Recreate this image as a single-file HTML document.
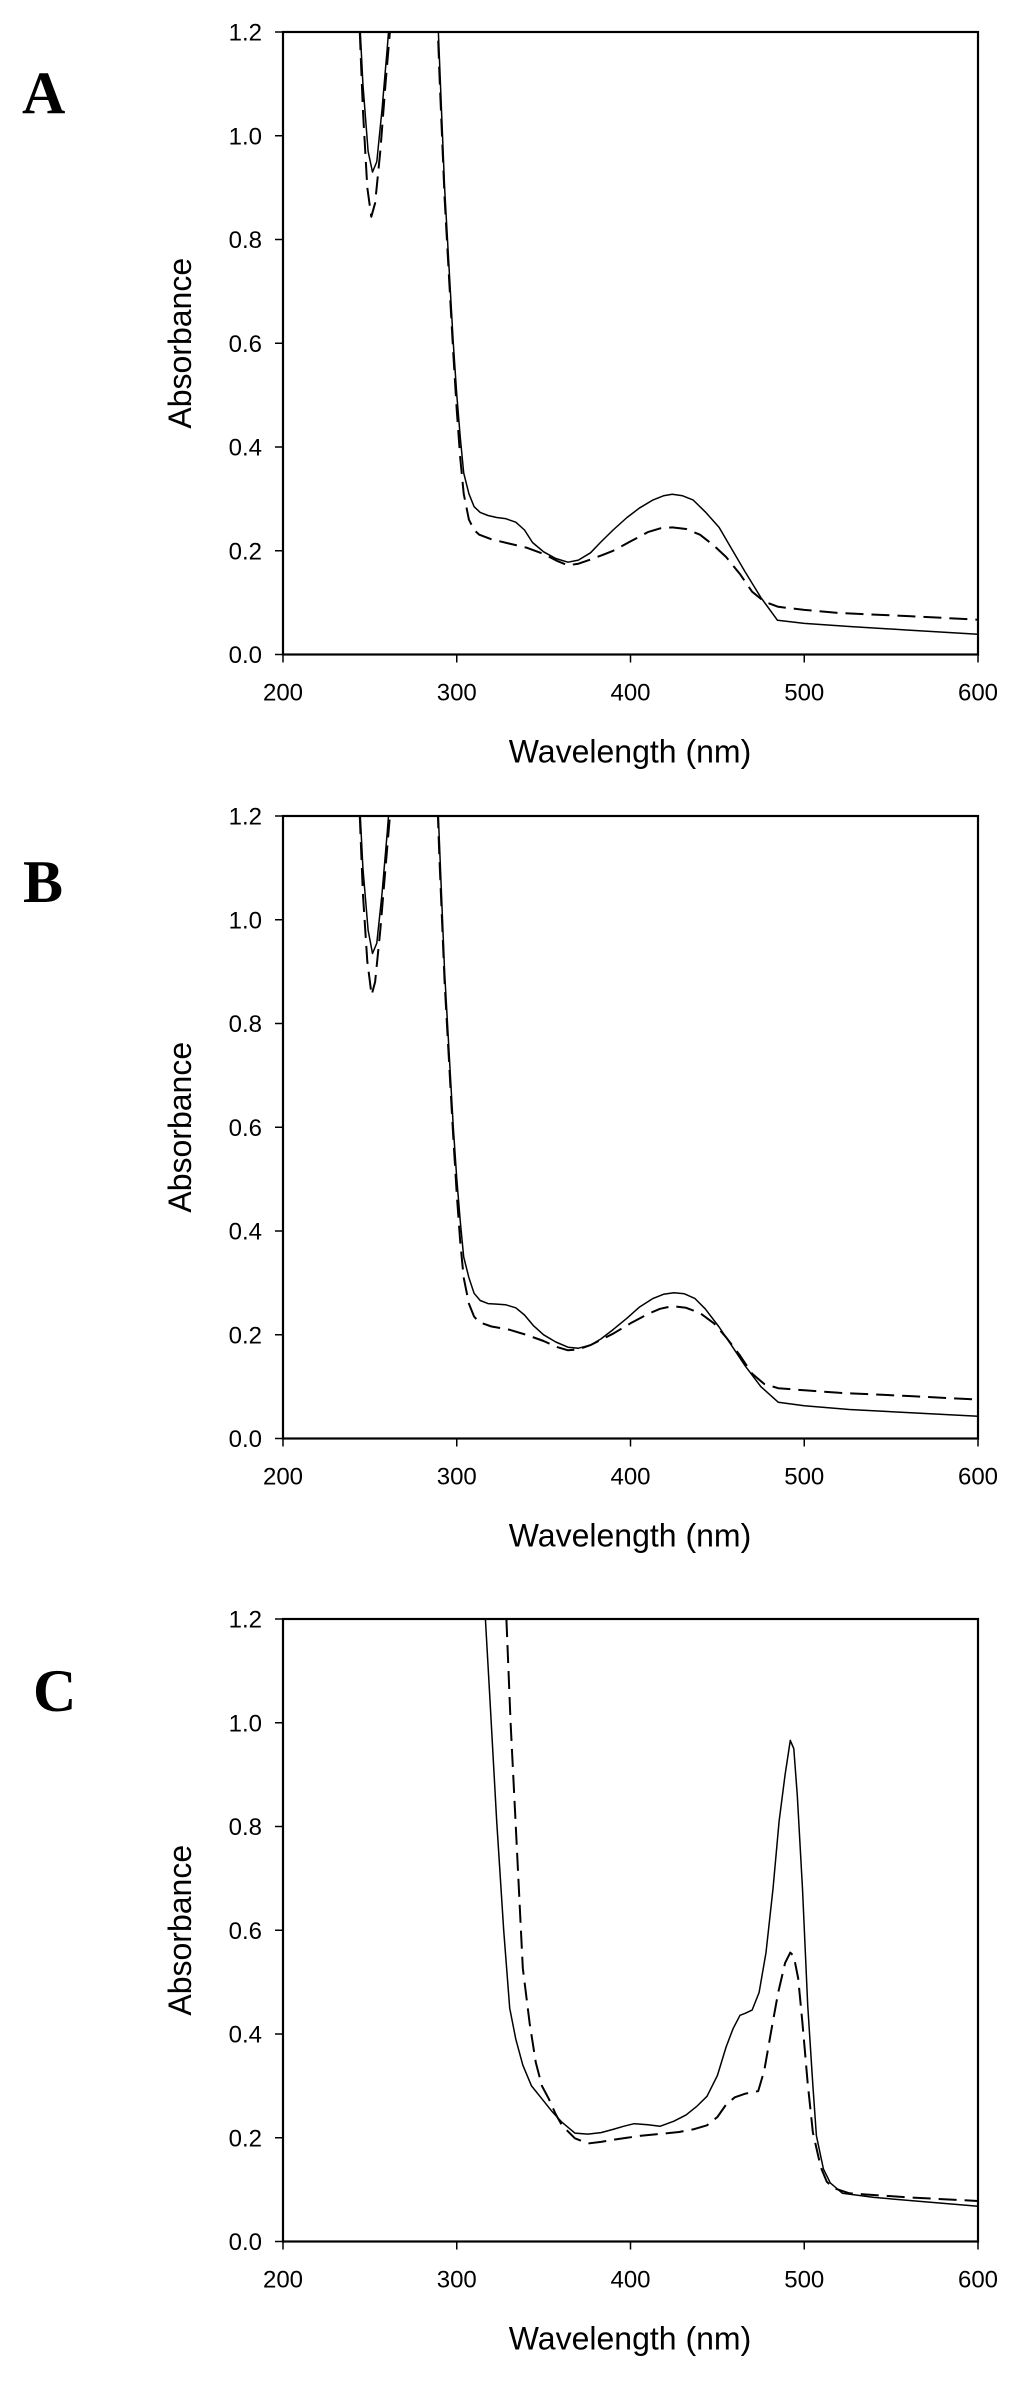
<!DOCTYPE html>
<html><head><meta charset="utf-8"><style>
html,body{margin:0;padding:0;background:#fff;}
svg{display:block;}
text{font-family:"Liberation Sans",Arial,sans-serif;fill:#000;}
.lbl{font-family:"Liberation Serif","Times New Roman",serif;font-weight:bold;}
</style></head><body>
<svg id="fig" width="1024" height="2381" viewBox="0 0 1024 2381" xmlns="http://www.w3.org/2000/svg"></svg>
<script>
// X/Y ticks
const xTicks = [200, 300, 400, 500, 600];
const yTicks = [0.0, 0.2, 0.4, 0.6, 0.8, 1.0, 1.2];
const panelLetters = ["A", "B", "C"];
// Panel A
const aSolidX = [243, 246, 249, 251.5, 254, 257, 260, 263, 287, 290, 293, 296, 298, 300, 302, 304, 307, 310, 313.5, 318, 323, 328, 334, 339, 343.6, 350, 357, 364, 370, 377, 383, 390, 398, 405, 413, 419, 424, 430, 436, 443, 451, 458, 466, 475, 484.6, 500, 526, 560, 600];
const aSolidY = [1.3, 1.1, 0.97, 0.93, 0.95, 1.05, 1.17, 1.3, 1.4, 1.15, 0.9, 0.72, 0.6, 0.5, 0.42, 0.35, 0.31, 0.285, 0.274, 0.268, 0.264, 0.262, 0.255, 0.24, 0.216, 0.198, 0.185, 0.178, 0.182, 0.196, 0.217, 0.24, 0.264, 0.282, 0.298, 0.306, 0.309, 0.306, 0.298, 0.275, 0.245, 0.205, 0.159, 0.11, 0.066, 0.06, 0.054, 0.047, 0.039];
const aDashX = [243, 246, 248.5, 250.8, 253, 256, 259, 262.8, 287, 290, 293, 296, 298, 300, 302, 304, 307, 310, 313, 320, 330, 340, 350, 358, 364, 370, 377, 384, 390, 400, 410, 417, 424, 432, 440, 448, 455, 463, 470, 477, 485, 500, 520, 560, 600];
const aDashY = [1.3, 1.05, 0.9, 0.844, 0.87, 0.97, 1.1, 1.25, 1.4, 1.12, 0.88, 0.7, 0.58, 0.47, 0.38, 0.31, 0.26, 0.24, 0.231, 0.222, 0.214, 0.206, 0.194, 0.18, 0.172, 0.175, 0.183, 0.192, 0.2, 0.218, 0.236, 0.243, 0.245, 0.242, 0.231, 0.21, 0.188, 0.155, 0.121, 0.102, 0.092, 0.086, 0.08, 0.074, 0.067];
// Panel B
const bSolidX = [243, 246, 249, 251.5, 254, 257, 260, 263, 287, 290, 293, 296, 298, 300, 302, 304, 307, 310, 313.5, 318, 323, 328, 334, 339, 344, 350, 357, 364, 370, 377, 383, 390, 398, 405, 413, 419, 425, 431, 437, 443, 451, 458, 466, 475, 485, 500, 526, 560, 600];
const bSolidY = [1.3, 1.1, 0.98, 0.935, 0.955, 1.05, 1.17, 1.3, 1.4, 1.15, 0.9, 0.72, 0.6, 0.5, 0.42, 0.35, 0.31, 0.28, 0.266, 0.26, 0.259, 0.258, 0.252, 0.238, 0.218, 0.2, 0.186, 0.176, 0.174, 0.18, 0.192, 0.21, 0.232, 0.253, 0.27, 0.278, 0.281, 0.279, 0.27, 0.25, 0.215, 0.18, 0.14, 0.1, 0.07, 0.063, 0.056, 0.05, 0.043];
const bDashX = [243, 246, 248.5, 251, 253, 256, 259, 262.8, 287, 290, 293, 296, 298, 300, 302, 304, 307, 310, 313, 320, 330, 340, 350, 358, 364, 370, 377, 384, 390, 400, 410, 417, 424, 432, 440, 448, 455, 463, 470, 477, 485, 500, 520, 560, 600];
const bDashY = [1.3, 1.05, 0.92, 0.855, 0.88, 0.98, 1.1, 1.25, 1.4, 1.12, 0.88, 0.7, 0.58, 0.47, 0.38, 0.31, 0.26, 0.235, 0.224, 0.216, 0.21, 0.2, 0.188, 0.176, 0.17, 0.172, 0.18, 0.192, 0.202, 0.222, 0.24, 0.25, 0.255, 0.252, 0.242, 0.222, 0.195, 0.16, 0.125, 0.105, 0.097, 0.093, 0.088, 0.082, 0.075];
// Panel C
const cSolidX = [314, 316.5, 319, 323, 327, 330.5, 334, 338, 343, 349, 355, 360.5, 368, 375.5, 383, 390, 396, 402, 410, 417, 425, 432, 438, 444, 450, 455, 459, 463, 466, 470, 474, 478, 482, 485.5, 489, 492, 494, 496, 499, 502, 505, 507, 511, 515, 522, 540, 564, 600];
const cSolidY = [1.35, 1.2, 1.05, 0.81, 0.6, 0.45, 0.39, 0.34, 0.3, 0.275, 0.25, 0.23, 0.209, 0.207, 0.21, 0.216, 0.222, 0.227, 0.225, 0.222, 0.232, 0.244, 0.26, 0.28, 0.32, 0.375, 0.41, 0.436, 0.44, 0.446, 0.48, 0.557, 0.68, 0.81, 0.9, 0.966, 0.95, 0.86, 0.68, 0.456, 0.3, 0.204, 0.14, 0.113, 0.093, 0.085, 0.078, 0.068];
const cDashX = [326, 328.6, 331, 334, 338, 342, 345.5, 349, 353, 357, 360.5, 368, 375.5, 383, 390, 398, 406, 416, 428, 436, 444, 450, 455, 460, 466, 473.5, 477, 481, 485, 489, 492, 494, 496.5, 499, 502, 505, 509.5, 513, 517, 526, 560, 600];
const cDashY = [1.35, 1.2, 1.0, 0.8, 0.527, 0.42, 0.345, 0.3, 0.275, 0.245, 0.224, 0.199, 0.189, 0.192, 0.196, 0.2, 0.204, 0.207, 0.211, 0.216, 0.224, 0.24, 0.264, 0.278, 0.285, 0.29, 0.33, 0.406, 0.48, 0.537, 0.557, 0.55, 0.507, 0.42, 0.305, 0.21, 0.143, 0.115, 0.103, 0.093, 0.085, 0.078];

const panels = [
  {top: 32, sx: aSolidX, sy: aSolidY, dx: aDashX, dy: aDashY, lx: 22, lb: 113},
  {top: 816, sx: bSolidX, sy: bSolidY, dx: bDashX, dy: bDashY, lx: 23, lb: 902},
  {top: 1619, sx: cSolidX, sy: cSolidY, dx: cDashX, dy: cDashY, lx: 33, lb: 1711}
];
const NS = "http://www.w3.org/2000/svg";
const svg = document.getElementById("fig");
const L = 283, R = 978, H = 622.5;
function mk(tag, attrs, parent) {
  const e = document.createElementNS(NS, tag);
  for (const k in attrs) e.setAttribute(k, attrs[k]);
  parent.appendChild(e);
  return e;
}
panels.forEach((p, i) => {
  const T = p.top, B = T + H;
  const xs = v => L + (v - 200) / 400 * (R - L);
  const ys = v => B - v / 1.2 * H;
  const g = mk("g", {}, svg);
  
  
  const clipId = "clip" + i;
  const cp = mk("clipPath", {id: clipId}, g);
  mk("rect", {x: L, y: T, width: R - L, height: H}, cp);
  const lt = mk("text", {x: p.lx, y: p.lb, "font-size": 60, class: "lbl"}, g);
  lt.textContent = panelLetters[i];
  
  
  function line(X, Y, dashed, name) {
    const d = X.map((x, k) => (k ? "L" : "M") + xs(x).toFixed(1) + "," + ys(Y[k]).toFixed(1)).join("");
    const a = {d: d, fill: "none", stroke: "#000", "stroke-width": dashed ? 2 : 1.5, "stroke-linejoin": "round", "clip-path": "url(#" + clipId + ")"};
    if (dashed) a["stroke-dasharray"] = "18,8";
    const el = mk("path", a, g);
    
    
  }
  line(p.sx, p.sy, false, 'solid-spectrum');
  line(p.dx, p.dy, true, 'dashed-spectrum');
  const fr = mk("rect", {x: L, y: T, width: R - L, height: H, fill: "none", stroke: "#000", "stroke-width": 2.2}, g);
  
  
  xTicks.forEach(v => {
    const t = mk("line", {x1: xs(v), x2: xs(v), y1: B, y2: B + 8, stroke: "#000", "stroke-width": 1.5}, g);
    
    
    const tx = mk("text", {x: xs(v), y: B + 46, "font-size": 24, "text-anchor": "middle"}, g);
    tx.textContent = String(v);
    
    
  });
  yTicks.forEach(v => {
    const t = mk("line", {x1: L - 8, x2: L, y1: ys(v), y2: ys(v), stroke: "#000", "stroke-width": 1.5}, g);
    
    
    const tx = mk("text", {x: 262, y: ys(v) + 8.5, "font-size": 24, "text-anchor": "end"}, g);
    tx.textContent = v.toFixed(1);
    
    
  });
  const xt = mk("text", {x: 630, y: B + 108, "font-size": 32, "text-anchor": "middle"}, g);
  xt.textContent = "Wavelength (nm)";
  
  
  const cy = T + H / 2;
  const yt = mk("text", {x: 0, y: 0, "font-size": 32, "text-anchor": "middle", transform: "translate(191," + cy + ") rotate(-90)"}, g);
  yt.textContent = "Absorbance";
  
  
});
</script>
</body></html>
